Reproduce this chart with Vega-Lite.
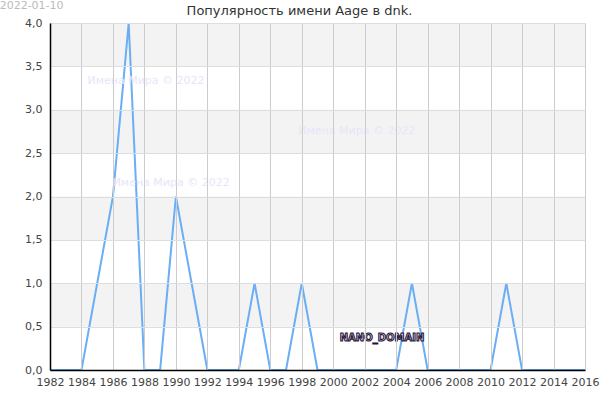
{
  "$schema": "https://vega.github.io/schema/vega-lite/v6.json",
  "width": 535,
  "height": 347,
  "autosize": {"type": "none"},
  "padding": {"left": 50, "top": 23, "right": 15, "bottom": 30},
  "background": "#ffffff",
  "title": {
    "text": "Популярность имени Aage в dnk.",
    "font": "DejaVu Sans",
    "fontSize": 13,
    "fontWeight": "normal",
    "color": "#333333",
    "anchor": "middle",
    "dx": -18,
    "offset": -18
  },
  "config": {
    "view": {"stroke": null},
    "font": "DejaVu Sans"
  },
  "datasets": {
    "series": [
      {"year": 1982, "count": 0}, {"year": 1983, "count": 0}, {"year": 1984, "count": 0},
      {"year": 1985, "count": 1}, {"year": 1986, "count": 2}, {"year": 1987, "count": 4},
      {"year": 1988, "count": 0}, {"year": 1989, "count": 0}, {"year": 1990, "count": 2},
      {"year": 1991, "count": 1}, {"year": 1992, "count": 0}, {"year": 1993, "count": 0},
      {"year": 1994, "count": 0}, {"year": 1995, "count": 1}, {"year": 1996, "count": 0},
      {"year": 1997, "count": 0}, {"year": 1998, "count": 1}, {"year": 1999, "count": 0},
      {"year": 2000, "count": 0}, {"year": 2001, "count": 0}, {"year": 2002, "count": 0},
      {"year": 2003, "count": 0}, {"year": 2004, "count": 0}, {"year": 2005, "count": 1},
      {"year": 2006, "count": 0}, {"year": 2007, "count": 0}, {"year": 2008, "count": 0},
      {"year": 2009, "count": 0}, {"year": 2010, "count": 0}, {"year": 2011, "count": 1},
      {"year": 2012, "count": 0}, {"year": 2013, "count": 0}, {"year": 2014, "count": 0},
      {"year": 2015, "count": 0}, {"year": 2016, "count": 0}
    ],
    "bands": [
      {"lo": 3.5, "hi": 4.0}, {"lo": 2.5, "hi": 3.0}, {"lo": 1.5, "hi": 2.0}, {"lo": 0.5, "hi": 1.0}
    ],
    "marks": [
      {"label": "Имена Мира © 2022", "year": 1988.1, "count": 3.33},
      {"label": "Имена Мира © 2022", "year": 2001.5, "count": 2.75},
      {"label": "Имена Мира © 2022", "year": 1989.7, "count": 2.16}
    ],
    "domain": [{"label": "NANO_DOMAIN", "year": 2003.1, "count": 0.37}],
    "date": [{"label": "2022-01-10", "year": 1978.8, "count": 4.2}]
  },
  "layer": [
    {
      "data": {"name": "bands"},
      "mark": {"type": "rect", "color": "#f3f3f3"},
      "encoding": {
        "x": {"datum": 1982, "type": "quantitative", "scale": {"domain": [1982, 2016], "nice": false, "zero": false},
          "axis": {
            "title": null,
            "zindex": 1,
            "values": [1982,1984,1986,1988,1990,1992,1994,1996,1998,2000,2002,2004,2006,2008,2010,2012,2014,2016],
            "tickCount": 18,
            "labelExpr": "format(datum.value, 'd')",
            "labelOverlap": false,
            "labelBound": false,
            "grid": true, "gridColor": "#cccccc", "gridWidth": 1,
            "domainColor": "#000000", "domainWidth": 1.5,
            "ticks": false,
            "labelFont": "DejaVu Sans", "labelFontSize": 11, "labelColor": "#444444",
            "labelPadding": 6, "labelFlush": false
          }},
        "x2": {"datum": 2016},
        "y": {"field": "lo", "type": "quantitative", "scale": {"domain": [0, 4], "nice": false},
          "axis": {
            "title": null,
            "zindex": 1,
            "values": [0, 0.5, 1, 1.5, 2, 2.5, 3, 3.5, 4],
            "tickCount": 9,
            "labelExpr": "replace(format(datum.value, '.1f'), '.', ',')",
            "labelOverlap": false,
            "grid": true, "gridColor": "#dddddd", "gridWidth": 1,
            "domainColor": "#000000", "domainWidth": 1.5,
            "ticks": false,
            "labelFont": "DejaVu Sans", "labelFontSize": 11, "labelColor": "#444444",
            "labelPadding": 8, "labelFlush": false
          }},
        "y2": {"field": "hi"}
      }
    },
    {
      "data": {"name": "series"},
      "mark": {"type": "line", "color": "#6aaef5", "strokeWidth": 2, "clip": false, "zindex": 2},
      "encoding": {
        "x": {"field": "year", "type": "quantitative"},
        "y": {"field": "count", "type": "quantitative"}
      }
    },
    {
      "data": {"name": "marks"},
      "mark": {"type": "text", "fontSize": 11, "color": "#e6e6f8", "align": "center", "baseline": "middle", "zindex": 2},
      "encoding": {
        "x": {"field": "year", "type": "quantitative"},
        "y": {"field": "count", "type": "quantitative"},
        "text": {"field": "label"}
      }
    },
    {
      "data": {"name": "domain"},
      "mark": {"type": "text", "fontSize": 10, "fontWeight": "bold", "fill": "#d4c6e6", "stroke": "#221133", "strokeWidth": 1, "align": "center", "baseline": "middle", "zindex": 2},
      "encoding": {
        "x": {"field": "year", "type": "quantitative"},
        "y": {"field": "count", "type": "quantitative"},
        "text": {"field": "label"}
      }
    },
    {
      "data": {"name": "date"},
      "mark": {"type": "text", "fontSize": 11, "color": "#bbbbbb", "align": "left", "baseline": "middle", "clip": false},
      "encoding": {
        "x": {"field": "year", "type": "quantitative"},
        "y": {"field": "count", "type": "quantitative"},
        "text": {"field": "label"}
      }
    }
  ]
}
